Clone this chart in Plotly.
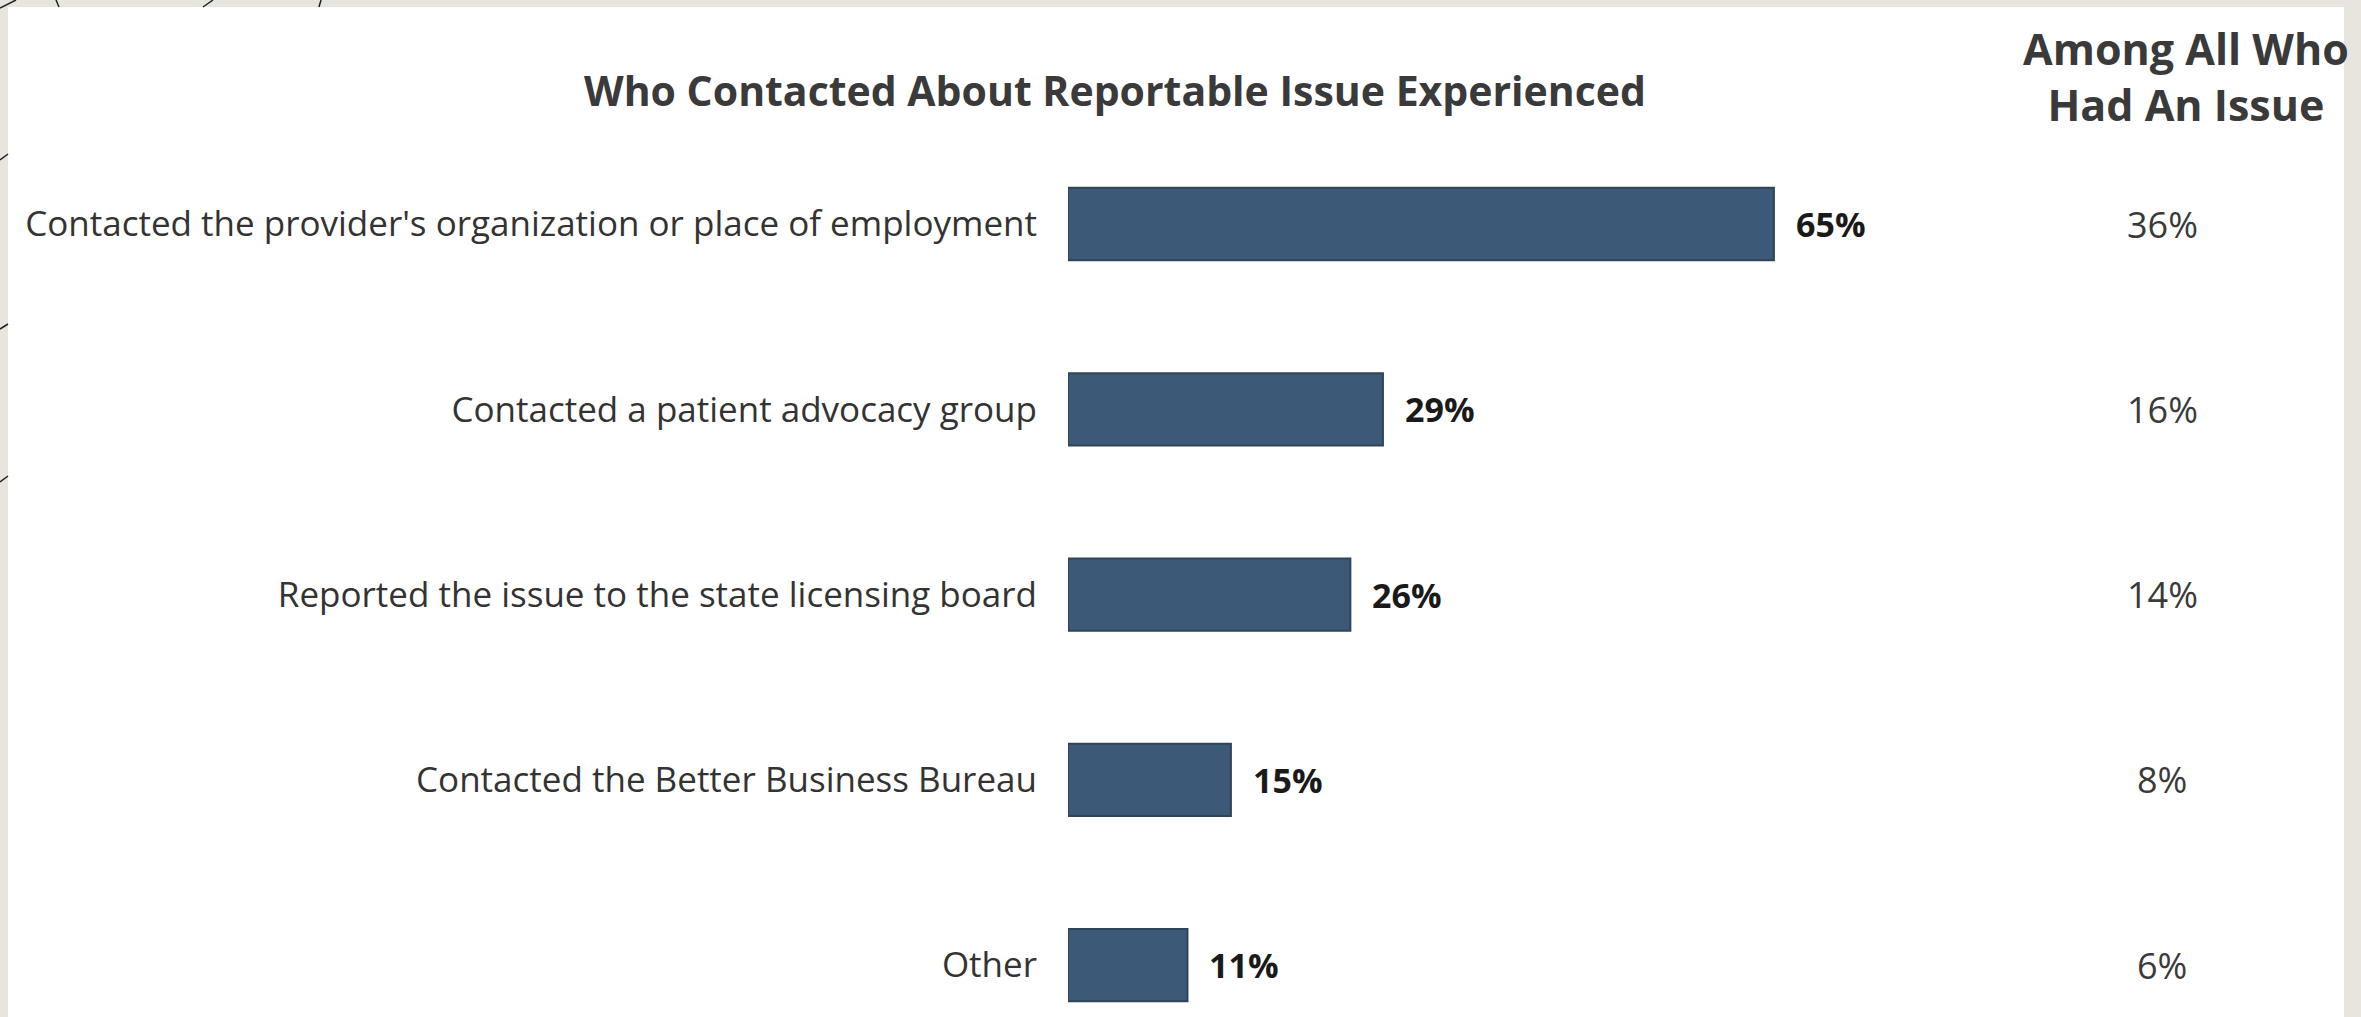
import plotly.graph_objects as go

# Survey responses: who people contacted about a reportable issue
categories = [
    "Contacted the provider's organization or place of employment",
    "Contacted a patient advocacy group",
    "Reported the issue to the state licensing board",
    "Contacted the Better Business Bureau",
    "Other",
]
pct_contacted = [65, 29, 26, 15, 11]       # among those who contacted someone
pct_among_all = [36, 16, 14, 8, 6]         # among all who had an issue

chart_title = "Who Contacted About Reportable Issue Experienced"
side_header = "Among All Who<br>Had An Issue"

W, H = 2361, 1017
FONT = "Open Sans"
BEIGE = "#e8e5df"
BAR = "#3c5a77"


def px(x):
    return x / W


def py(y):
    return 1 - y / H


fig = go.Figure()

fig.add_trace(go.Bar(
    x=pct_contacted,
    y=categories,
    orientation="h",
    width=0.39,
    marker=dict(color=BAR, line=dict(color="#2f4457", width=2)),
    hoverinfo="skip",
))

annotations = []
# value labels to the right of each bar
for cat, v in zip(categories, pct_contacted):
    annotations.append(dict(
        x=v, y=cat, xref="x", yref="y", xanchor="left", yanchor="middle",
        xshift=20, showarrow=False, text=f"<b>{v}%</b>",
        font=dict(family=FONT, size=34, color="#1a1a1a"),
    ))
# right-hand column
for cat, v in zip(categories, pct_among_all):
    annotations.append(dict(
        x=px(2162), y=cat, xref="paper", yref="y", xanchor="center",
        yanchor="middle", showarrow=False, text=f"{v}%",
        font=dict(family=FONT, size=36, color="#3a3a3a"),
    ))
annotations.append(dict(
    x=px(1115), y=py(90), xref="paper", yref="paper", xanchor="center",
    yanchor="middle", showarrow=False, text=f"<b>{chart_title}</b>",
    font=dict(family=FONT, size=41, color="#3a3a3a"),
))
annotations.append(dict(
    x=px(2186), y=py(76), xref="paper", yref="paper", xanchor="center",
    yanchor="middle", showarrow=False, text=f"<b>{side_header}</b>",
    font=dict(family=FONT, size=43, color="#3a3a3a"),
))

shapes = [
    # white content panel on the beige page
    dict(type="rect", xref="paper", yref="paper", x0=px(8), x1=px(2344),
         y0=-0.05, y1=py(7), fillcolor="white", line=dict(width=0),
         layer="below"),
]
# thin decorative strokes in the page border
border_strokes = [
    ((0, 8), (16, 0)), ((56, 0), (59, 7)), ((203, 7), (213, 0)),
    ((321, 0), (319, 7)), ((0, 160), (8, 154)), ((0, 329), (8, 324)),
    ((0, 482), (8, 476)),
]
for (x0, y0), (x1, y1) in border_strokes:
    shapes.append(dict(type="line", xref="paper", yref="paper",
                       x0=px(x0), y0=py(y0), x1=px(x1), y1=py(y1),
                       line=dict(color="#222222", width=1.5)))

x0_px, unit_px = 1068, 10.86
y0_px, step_px = 224, 185.3

fig.update_layout(
    width=W, height=H,
    margin=dict(l=0, r=0, t=0, b=0),
    paper_bgcolor=BEIGE,
    plot_bgcolor="rgba(0,0,0,0)",
    showlegend=False,
    annotations=annotations,
    shapes=shapes,
    xaxis=dict(
        domain=[px(x0_px), 1], range=[0, (W - x0_px) / unit_px],
        visible=False, automargin=False, fixedrange=True,
    ),
    yaxis=dict(
        type="category",
        range=[(H - y0_px) / step_px, -y0_px / step_px],
        showgrid=False, zeroline=False, showline=False, ticks="",
        ticklabelstandoff=30, automargin=False,
        tickfont=dict(family=FONT, size=35, color="#333333"),
    ),
)

fig.write_html("out.html")
